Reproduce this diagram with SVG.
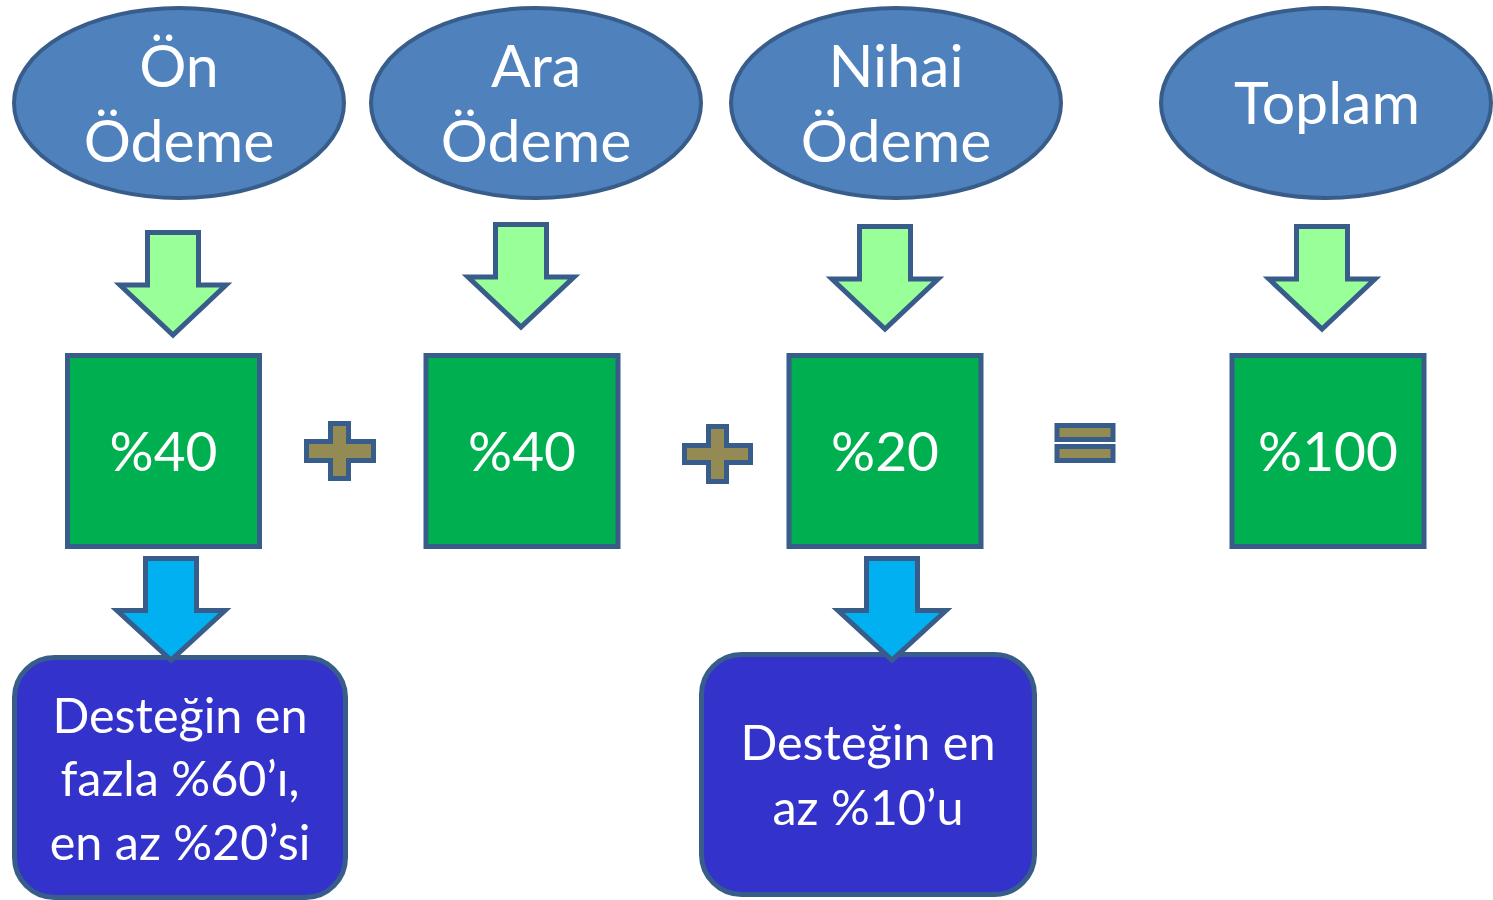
<svg xmlns="http://www.w3.org/2000/svg" width="1493" height="900" viewBox="0 0 1493 900">
<style>
.ell{fill:#4F81BD;stroke:#385D8A;stroke-width:4}
.sq{fill:#00B050;stroke:#385D8A;stroke-width:5}
.ga{fill:#99FF99;stroke:#385D8A;stroke-width:5;stroke-linejoin:miter}
.ba{fill:#00B0F0;stroke:#385D8A;stroke-width:5;stroke-linejoin:miter}
.box{fill:#3333CC;stroke:#385D8A;stroke-width:5}
.op{fill:#948A54;stroke:#385D8A;stroke-width:5}
text{font-family:Lato,"Open Sans","Liberation Sans",sans-serif;fill:#FFFFFF;text-anchor:middle}
.t1{font-size:59px}
.t2{font-size:55px}
.t3{font-size:48.5px}
</style>
<rect width="1493" height="900" fill="#FFFFFF"/>
<g id="node-on-odeme">
<ellipse class="ell" cx="179" cy="103" rx="165" ry="95"/>
<text class="t1" x="179" y="87">Ön</text>
<text class="t1" x="179" y="162">Ödeme</text>
</g>
<g id="node-ara-odeme">
<ellipse class="ell" cx="536" cy="103" rx="165" ry="95"/>
<text class="t1" x="536" y="87">Ara</text>
<text class="t1" x="536" y="162">Ödeme</text>
</g>
<g id="node-nihai-odeme">
<ellipse class="ell" cx="896" cy="103" rx="165" ry="95"/>
<text class="t1" x="896" y="87">Nihai</text>
<text class="t1" x="896" y="162">Ödeme</text>
</g>
<g id="node-toplam">
<ellipse class="ell" cx="1326" cy="103" rx="165" ry="95"/>
<text class="t1" x="1327" y="124">Toplam</text>
</g>
<g id="node-pct40-a">
<rect class="sq" x="67.5" y="355.5" width="192" height="191"/>
<text class="t2" x="163.5" y="471">%40</text>
</g>
<g id="op-plus-1">
<path class="op" d="M330.5,423.5 H348.5 V441.5 H373.5 V460.5 H348.5 V478.5 H330.5 V460.5 H306.5 V441.5 H330.5 Z"/>
</g>
<g id="node-pct40-b">
<rect class="sq" x="426" y="355.5" width="192" height="191"/>
<text class="t2" x="522" y="471">%40</text>
</g>
<g id="op-plus-2">
<path class="op" d="M708.5,426.5 H726.5 V445.5 H750.5 V462.5 H726.5 V481.5 H708.5 V462.5 H684.5 V445.5 H708.5 Z"/>
</g>
<g id="node-pct20">
<rect class="sq" x="789" y="355.5" width="192" height="191"/>
<text class="t2" x="885" y="471">%20</text>
</g>
<g id="op-equals">
<rect class="op" x="1057" y="425.5" width="56" height="14"/>
<rect class="op" x="1057" y="446.5" width="56" height="14"/>
</g>
<g id="node-pct100">
<rect class="sq" x="1232" y="355.5" width="192" height="191"/>
<text class="t2" x="1328" y="471">%100</text>
</g>
<g id="node-desc-on">
<rect class="box" x="14.5" y="657.5" width="331" height="240" rx="40" ry="40"/>
<text class="t3" x="180" y="733">Desteğin en</text>
<text class="t3" x="180" y="796">fazla %60’ı,</text>
<text class="t3" x="180" y="860">en az %20’si</text>
</g>
<g id="node-desc-nihai">
<rect class="box" x="701.5" y="654.5" width="333" height="240" rx="40" ry="40"/>
<text class="t3" x="868" y="760">Desteğin en</text>
<text class="t3" x="868" y="825">az %10’u</text>
</g>
<g id="connectors">
<path class="ga" d="M147.5,232.5 H198.5 V285 H226 L173,335 L120,285 H147.5 Z"/>
<path class="ga" d="M495.5,224.5 H546.5 V277 H574 L521,327 L468,277 H495.5 Z"/>
<path class="ga" d="M859.5,226.5 H910.5 V279 H938 L885,329 L832,279 H859.5 Z"/>
<path class="ga" d="M1296.5,226.5 H1347.5 V279 H1375 L1322,329 L1269,279 H1296.5 Z"/>
<path class="ba" d="M145.5,558.5 H196.5 V610.5 H225 L171,660 L117,610.5 H145.5 Z"/>
<path class="ba" d="M866.5,558.5 H917.5 V610.5 H946 L892,660 L838,610.5 H866.5 Z"/>
</g>
</svg>
